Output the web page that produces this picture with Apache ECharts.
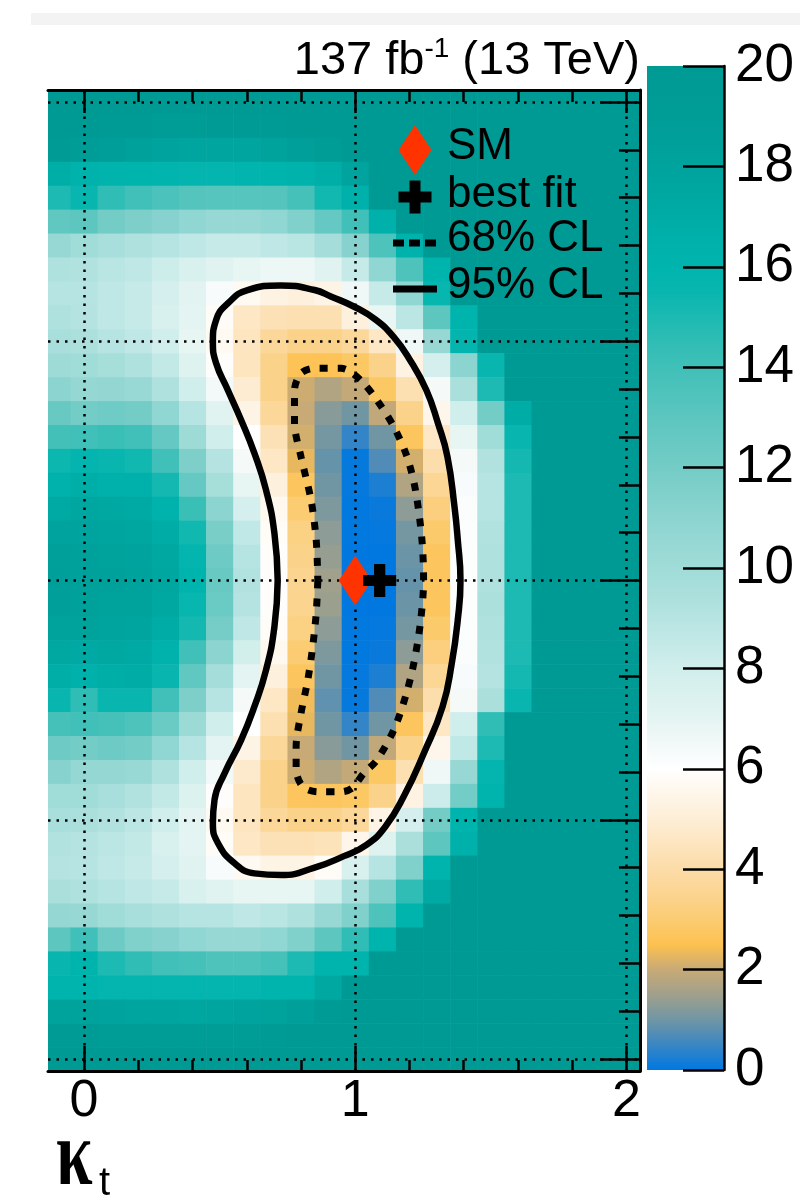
<!DOCTYPE html>
<html>
<head>
<meta charset="utf-8">
<title>kappa_t likelihood scan</title>
<script src="https://cdn.jsdelivr.net/npm/echarts@6/dist/echarts.min.js"></script>
<style>
  html, body { margin: 0; padding: 0; background: #fff; }
  #main { width: 800px; height: 1201px; }
</style>
</head>
<body>
<div id="main"></div>
<script>
// bin centres of the scan
var kt = [-0.1, 0.0, 0.1, 0.2, 0.3, 0.4, 0.5, 0.6, 0.7, 0.8, 0.9, 1.0, 1.1, 1.2, 1.3, 1.4, 1.5, 1.6, 1.7, 1.8, 1.9, 2.0];
var ktilde = [2.0, 1.9, 1.8, 1.7, 1.6, 1.5, 1.4, 1.3, 1.2, 1.1, 1.0, 0.9, 0.8, 0.7, 0.6, 0.5, 0.4, 0.3, 0.2, 0.1, 0.0,
  -0.1, -0.2, -0.3, -0.4, -0.5, -0.6, -0.7, -0.8, -0.9, -1.0, -1.1, -1.2, -1.3, -1.4, -1.5, -1.6, -1.7, -1.8, -1.9, -2.0];

// -2 dlnL, one row per ktilde bin (top to bottom), one value per kt bin
var dnll = [
  [20,20,20,20,20,20,20,20,20,20,20,20,20,20,20,20,20,20,20,20,20,20],
  [20,19.8,19.6,19.4,19.3,19.3,19.4,19.5,19.7,19.9,20,20,20,20,20,20,20,20,20,20,20,20],
  [19.6,19.0,18.8,18.4,18.0,17.8,17.7,17.8,18.2,18.6,19.2,19.8,20,20,20,20,20,20,20,20,20,20],
  [16.8,16.4,16.2,16.0,15.9,15.8,15.8,15.9,16.0,16.3,16.8,18.0,20,20,20,20,20,20,20,20,20,20],
  [15.0,15.5,14.5,14.0,13.6,13.3,13.2,13.2,13.3,13.8,15.3,16.6,20,20,20,20,20,20,20,20,20,20],
  [12.8,13.0,12.0,11.6,11.2,10.8,10.5,10.5,10.8,11.5,12.6,14.0,16.5,20,20,20,20,20,20,20,20,20],
  [10.5,10.0,9.6,9.3,9.0,8.7,8.4,8.4,8.7,8.9,9.8,11.2,13.5,16.3,20,20,20,20,20,20,20,20],
  [9.3,9.2,8.9,8.7,8.1,7.6,7.2,6.9,6.7,6.7,7.2,8.4,10.8,13.5,16.0,20,20,20,20,20,20,20],
  [9.0,9.0,8.7,8.4,7.8,7.1,6.3,5.7,5.3,5.2,5.4,6.6,8.4,10.8,15.6,20,20,20,20,20,20,20],
  [9.3,9.1,8.7,8.4,7.6,7.0,5.8,4.6,4.3,4.2,4.2,5.2,6.8,8.8,13.0,16.0,20,20,20,20,20,20],
  [9.6,9.4,9.0,8.7,8.0,6.9,5.7,4.5,3.7,3.4,3.4,3.7,4.6,6.6,10.5,15.8,20,20,20,20,20,20],
  [10.1,10.0,9.7,9.3,8.5,7.3,5.9,4.5,3.4,2.6,2.6,2.8,3.4,5.3,7.8,11.0,15.5,20,20,20,20,20],
  [11.0,10.6,10.7,10.4,9.3,8.0,6.5,4.9,3.4,2.05,1.7,1.95,2.8,4.2,6.4,9.5,15.0,20,20,20,20,20],
  [12.5,12.0,12.2,12.0,10.8,9.0,7.2,5.4,3.7,2.0,1.25,1.0,1.9,3.4,5.5,8.0,12.0,17.0,20,20,20,20],
  [13.9,14.0,14.2,14.0,12.6,10.1,8.0,6.0,4.3,2.1,1.05,0.45,1.0,2.7,4.6,6.9,10.0,15.5,20,20,20,20],
  [15.4,15.8,15.5,15.3,14.0,11.6,9.1,6.4,4.6,2.3,0.9,0.05,0.7,2.1,4.1,6.4,9.2,15.2,20,20,20,20],
  [16.4,16.8,16.6,16.5,15.2,12.6,9.7,6.9,5.2,2.7,1.0,0.04,0.25,1.7,3.6,6.3,9.0,15.0,20,20,20,20],
  [17.2,17.5,17.4,17.2,16.4,14.2,11.0,7.8,5.6,3.0,1.15,0.02,0.08,1.3,3.2,6.2,9.0,15.0,20,20,20,20],
  [18.0,18.0,17.8,17.6,17.0,15.3,11.8,8.6,5.8,3.3,1.3,0.02,0.04,1.05,2.9,6.1,9.2,15.0,20,20,20,20],
  [18.5,18.3,18.2,18.0,17.4,15.8,12.3,9.0,5.9,3.4,1.4,0.01,0.0,0.95,2.7,6.1,9.3,15.0,20,20,20,20],
  [18.7,18.4,18.3,18.1,17.5,16.0,12.5,9.2,5.9,3.5,1.5,0.01,0.0,0.9,2.7,6.1,9.3,15.0,20,20,20,20],
  [18.6,18.3,18.2,18.2,17.4,15.6,12.4,9.1,5.9,3.5,1.45,0.01,0.0,0.95,2.7,6.1,9.4,15.0,20,20,20,20],
  [18.2,18.1,17.9,17.8,17.0,15.2,11.9,8.7,5.8,3.3,1.3,0.02,0.04,1.05,2.9,6.1,9.3,15.0,20,20,20,20],
  [17.4,17.3,17.4,17.2,16.4,14.0,11.0,7.9,5.6,3.0,1.15,0.02,0.08,1.3,3.2,6.2,9.2,15.0,20,20,20,20],
  [16.8,16.6,16.8,17.0,15.5,12.8,9.8,7.0,5.2,2.7,1.0,0.04,0.25,1.7,3.6,6.3,9.1,15.2,20,20,20,20],
  [15.5,14.5,15.5,15.5,14.0,11.6,9.0,6.4,4.6,2.4,0.85,0.05,0.7,2.1,4.1,6.4,9.5,15.5,20,20,20,20],
  [13.8,14.0,13.8,13.5,12.4,10.2,8.0,6.0,4.2,2.3,1.0,0.45,1.0,2.7,4.6,8.0,14.5,20,20,20,20,20],
  [12.3,12.0,12.3,12.0,10.8,9.0,7.0,5.4,3.7,2.0,1.25,1.0,1.9,3.4,5.5,8.6,15.0,20,20,20,20,20],
  [11.2,10.6,10.6,10.4,9.3,8.0,6.5,4.8,3.4,2.05,1.7,1.95,2.8,4.2,6.6,10.5,15.8,20,20,20,20,20],
  [10.0,10.0,9.6,9.2,8.5,7.4,5.9,4.5,3.4,2.7,2.7,2.8,3.4,5.3,8.2,12.0,16.0,20,20,20,20,20],
  [9.6,9.5,9.2,8.8,8.0,7.0,5.7,4.5,3.7,3.4,3.4,3.7,5.4,7.8,12.0,16.0,20,20,20,20,20,20],
  [9.2,9.1,8.8,8.5,7.6,7.0,5.8,4.6,4.3,4.3,4.4,5.5,7.3,9.5,13.0,16.5,20,20,20,20,20,20],
  [9.1,9.0,8.7,8.4,7.8,7.2,6.3,5.7,5.4,5.4,5.8,7.6,9.0,11.5,16.0,20,20,20,20,20,20,20],
  [9.5,9.3,9.0,8.7,8.4,7.6,7.2,6.9,6.9,6.9,8.0,9.6,11.5,14.5,17.2,20,20,20,20,20,20,20],
  [10.6,10.5,10.0,9.6,9.3,9.0,9.0,8.7,8.9,9.3,10.5,11.5,13.5,16.0,20,20,20,20,20,20,20,20],
  [13.0,14.0,12.3,11.5,11.2,10.8,10.5,10.5,10.8,11.5,13.0,14.5,16.0,20,20,20,20,20,20,20,20,20],
  [15.5,16.0,15.0,14.5,14.0,13.8,13.5,13.5,13.8,15.0,16.0,16.0,20,20,20,20,20,20,20,20,20,20],
  [16.0,16.0,15.8,15.8,15.8,15.8,15.8,15.8,16.0,16.0,17.4,20,20,20,20,20,20,20,20,20,20,20],
  [18.2,18.2,18.0,17.8,17.8,17.6,17.8,18.0,18.2,18.6,19.4,20,20,20,20,20,20,20,20,20,20,20],
  [19.5,19.4,19.2,19.2,19.0,19.0,19.2,19.3,19.5,19.8,20,20,20,20,20,20,20,20,20,20,20,20],
  [20,20,20,20,20,20,20,20,20,20,20,20,20,20,20,20,20,20,20,20,20,20]
];

// contours (kt, ktilde), closed
var cl68 = [[0.862,0.0],[0.856,-0.137],[0.843,-0.277],[0.825,-0.416],[0.800,-0.555],[0.782,-0.695],[0.782,-0.792],
  [0.807,-0.862],[0.862,-0.883],[0.948,-0.883],[0.988,-0.868],[1.031,-0.806],[1.080,-0.750],[1.142,-0.625],
  [1.185,-0.486],[1.216,-0.346],[1.240,-0.179],[1.252,0.0],[1.246,0.169],[1.222,0.378],[1.191,0.517],[1.142,0.643],
  [1.080,0.754],[1.031,0.824],[0.982,0.873],[0.948,0.887],[0.850,0.887],[0.800,0.866],[0.776,0.796],[0.776,0.657],
  [0.800,0.517],[0.837,0.336],[0.856,0.169],[0.862,0.0]];
var cl95 = [[0.714,0.0],[0.702,-0.193],[0.671,-0.374],[0.628,-0.527],[0.579,-0.667],[0.518,-0.806],[0.481,-0.917],
  [0.475,-1.015],[0.494,-1.098],[0.555,-1.182],[0.628,-1.224],[0.727,-1.231],[0.850,-1.200],[0.958,-1.152],
  [1.040,-1.106],[1.110,-1.030],[1.180,-0.900],[1.253,-0.722],[1.322,-0.527],[1.356,-0.346],[1.378,-0.165],
  [1.388,0.0],[1.378,0.170],[1.366,0.308],[1.340,0.517],[1.305,0.657],[1.262,0.796],[1.200,0.925],[1.140,1.020],
  [1.075,1.090],[1.000,1.142],[0.910,1.187],[0.850,1.214],[0.725,1.233],[0.603,1.214],[0.530,1.158],[0.487,1.089],
  [0.475,0.998],[0.487,0.908],[0.530,0.796],[0.579,0.671],[0.628,0.532],[0.671,0.378],[0.702,0.197],[0.714,0.0]];

var smPoint = [1.0, 0.0];
var bestFit = [1.09, 0.0];

var xMajor = [0, 1, 2];
var xMinor = [0.2, 0.4, 0.6, 0.8, 1.2, 1.4, 1.6, 1.8];
var yMajor = [-2, -1, 0, 1, 2];
var yMinor = [-1.8, -1.6, -1.4, -1.2, -0.8, -0.6, -0.4, -0.2, 0.2, 0.4, 0.6, 0.8, 1.2, 1.4, 1.6, 1.8];

// palette, one stop every 0.5 from 0 to 20
var palette = ['#0078e0','#3a86c4','#7096a4','#a0a08c','#c8aa76','#fdc150','#fbcc72','#fbd490','#fcdca8','#fde5bf',
  '#fdeed6','#fef6ea','#ffffff','#f2f9f8','#e4f4f2','#daf1ee','#d0eeec','#c3e9e7','#b6e4e2','#aadfdc',
  '#a0dcd8','#97d8d4','#8cd4d0','#80d0cb','#74ccc6','#68c9c3','#5cc6bf','#4ec3bc','#40c0b8','#30bdb5',
  '#1cbab2','#08b6af','#00b4ae','#00b1ab','#00aca6','#00a7a1','#00a39d','#00a09a','#009d97','#009b95','#009a94'];

var FONT = 'Liberation Sans';
var BIN = 0.1;

var cells = [];
dnll.forEach(function (row, i) {
  row.forEach(function (v, j) { cells.push([kt[j], ktilde[i], v]); });
});

function renderCell(params, api) {
  var x = api.value(0), y = api.value(1);
  var p0 = api.coord([x - BIN / 2, y + BIN / 2]);
  var p1 = api.coord([x + BIN / 2, y - BIN / 2]);
  var rect = echarts.graphic.clipRectByRect({
    x: p0[0], y: p0[1], width: p1[0] - p0[0] + 0.6, height: p1[1] - p0[1] + 0.6
  }, params.coordSys);
  if (!rect) return;
  return { type: 'rect', shape: rect, style: { fill: api.visual('color') } };
}

function renderBar(params, api) {
  var p0 = api.coord([0, 20]);
  var p1 = api.coord([1, 0]);
  var stops = palette.map(function (c, i) { return { offset: i / (palette.length - 1), color: c }; });
  return {
    type: 'rect',
    shape: { x: p0[0], y: p0[1], width: p1[0] - p0[0], height: p1[1] - p0[1] },
    style: { fill: new echarts.graphic.LinearGradient(0, 1, 0, 0, stops) }
  };
}

function tickAxis(pos, values, len, withLine, labels) {
  var vertical = pos === 'left' || pos === 'right';
  return {
    gridIndex: 0, type: 'value', position: pos, z: 9,
    min: vertical ? -2.05 : -0.133,
    max: 2.05,
    axisLine: { show: withLine, onZero: false, lineStyle: { color: '#000', width: 3 } },
    axisTick: { show: true, inside: true, length: len, customValues: values, lineStyle: { color: '#000', width: 2.5 } },
    axisLabel: labels ? { customValues: values, color: '#000', fontSize: 52, fontFamily: FONT, margin: 5 } : { show: false },
    splitLine: { show: false }
  };
}

var chart = echarts.init(document.getElementById('main'));
chart.setOption({
  animation: false,
  backgroundColor: '#fff',
  title: {
    text: '{a|137 fb}{s|-1}{a| (13 TeV)}',
    right: 160, top: 35, padding: 0,
    textStyle: {
      rich: {
        a: { fontSize: 47, fontFamily: FONT, fontWeight: 'normal', color: '#000', lineHeight: 53 },
        s: { fontSize: 28, fontFamily: FONT, fontWeight: 'normal', color: '#000', lineHeight: 31, verticalAlign: 'top' }
      }
    }
  },
  grid: [
    { left: 48, top: 90, width: 592, height: 981 },
    { left: 647, top: 66, width: 77, height: 1004 }
  ],
  xAxis: [
    tickAxis('bottom', xMajor, 25, true, true),
    tickAxis('bottom', xMinor, 11, false, false),
    tickAxis('top', xMajor, 23, true, false),
    tickAxis('top', xMinor, 12, false, false),
    { gridIndex: 1, type: 'value', min: 0, max: 1, show: false }
  ],
  yAxis: [
    tickAxis('right', yMajor, 40, true, false),
    tickAxis('right', yMinor, 21, false, false),
    {
      gridIndex: 1, type: 'value', position: 'right', min: 0, max: 20, interval: 2, z: 9,
      axisLine: { show: true, onZero: false, lineStyle: { color: '#000', width: 2.5 } },
      axisTick: { show: true, inside: true, length: 41, lineStyle: { color: '#000', width: 2.5 } },
      axisLabel: { color: '#000', fontSize: 53, fontFamily: FONT, margin: 11 },
      splitLine: { show: false }
    }
  ],
  visualMap: {
    type: 'continuous', show: false, min: 0, max: 20, dimension: 2, seriesIndex: 0,
    inRange: { color: palette }
  },
  series: [
    {
      name: 'scan', type: 'custom', xAxisIndex: 0, yAxisIndex: 0, z: 1,
      renderItem: renderCell, data: cells, silent: true
    },
    {
      name: 'grid', type: 'scatter', xAxisIndex: 0, yAxisIndex: 0, data: [], z: 3,
      markLine: {
        silent: true, symbol: ['none', 'none'], label: { show: false },
        lineStyle: { color: '#000', width: 2.5, type: [2.5, 6] },
        data: xMajor.map(function (v) { return { xAxis: v }; })
          .concat(yMajor.map(function (v) { return { yAxis: v }; }))
      }
    },
    {
      name: '95% CL', type: 'line', xAxisIndex: 0, yAxisIndex: 0, z: 8, data: cl95,
      smooth: 0.5, showSymbol: false, symbol: 'none',
      lineStyle: { color: '#000', width: 6.5 }
    },
    {
      name: '68% CL', type: 'line', xAxisIndex: 0, yAxisIndex: 0, z: 8, data: cl68,
      smooth: 0.3, showSymbol: false, symbol: 'none',
      lineStyle: { color: '#000', width: 7, type: [8, 10] }
    },
    {
      name: 'SM', type: 'scatter', xAxisIndex: 0, yAxisIndex: 0, z: 10, data: [smPoint],
      symbol: 'diamond', symbolSize: [33, 50], itemStyle: { color: '#ff3300', opacity: 1 }
    },
    {
      name: 'best fit', type: 'scatter', xAxisIndex: 0, yAxisIndex: 0, z: 11, data: [bestFit],
      symbol: 'path://M0,3.3H3.3V0H6.7V3.3H10V6.7H6.7V10H3.3V6.7H0Z', symbolSize: 33,
      itemStyle: { color: '#000', opacity: 1 }
    },
    {
      name: 'colorbar', type: 'custom', xAxisIndex: 4, yAxisIndex: 2, data: [[0, 0]],
      renderItem: renderBar, silent: true
    }
  ],
  graphic: [
    { type: 'rect', shape: { x: 31, y: 13, width: 769, height: 12 }, style: { fill: '#f3f3f3' }, silent: true },
    // legend
    { type: 'polygon', shape: { points: [[415, 125], [431.5, 150], [415, 175], [398.5, 150]] }, style: { fill: '#ff3300' }, z: 20 },
    { type: 'rect', shape: { x: 398.5, y: 191.5, width: 33, height: 11 }, style: { fill: '#000' }, z: 20 },
    { type: 'rect', shape: { x: 409.5, y: 180.5, width: 11, height: 33 }, style: { fill: '#000' }, z: 20 },
    { type: 'line', shape: { x1: 393, y1: 243, x2: 437, y2: 243 }, style: { stroke: '#000', lineWidth: 7, lineDash: [11, 5] }, z: 20 },
    { type: 'line', shape: { x1: 393, y1: 289, x2: 437, y2: 289 }, style: { stroke: '#000', lineWidth: 7 }, z: 20 },
    { type: 'text', x: 447, y: 147, style: { text: 'SM', fontSize: 44, fontFamily: FONT, fill: '#000', verticalAlign: 'middle' }, z: 20 },
    { type: 'text', x: 447, y: 195, style: { text: 'best fit', fontSize: 44, fontFamily: FONT, fill: '#000', verticalAlign: 'middle' }, z: 20 },
    { type: 'text', x: 447, y: 239, style: { text: '68% CL', fontSize: 44, fontFamily: FONT, fill: '#000', verticalAlign: 'middle' }, z: 20 },
    { type: 'text', x: 447, y: 286, style: { text: '95% CL', fontSize: 44, fontFamily: FONT, fill: '#000', verticalAlign: 'middle' }, z: 20 },
    // x axis title
    { type: 'text', x: 56, y: 1114, scaleY: 1.4, z: 20,
      style: { text: 'κ', fontSize: 66, fontFamily: 'Liberation Serif', fontWeight: 'bold', fill: '#000' } },
    { type: 'text', x: 99, y: 1164, z: 20,
      style: { text: 't', fontSize: 40, fontFamily: FONT, fill: '#000' } }
  ]
});
</script>
</body>
</html>
